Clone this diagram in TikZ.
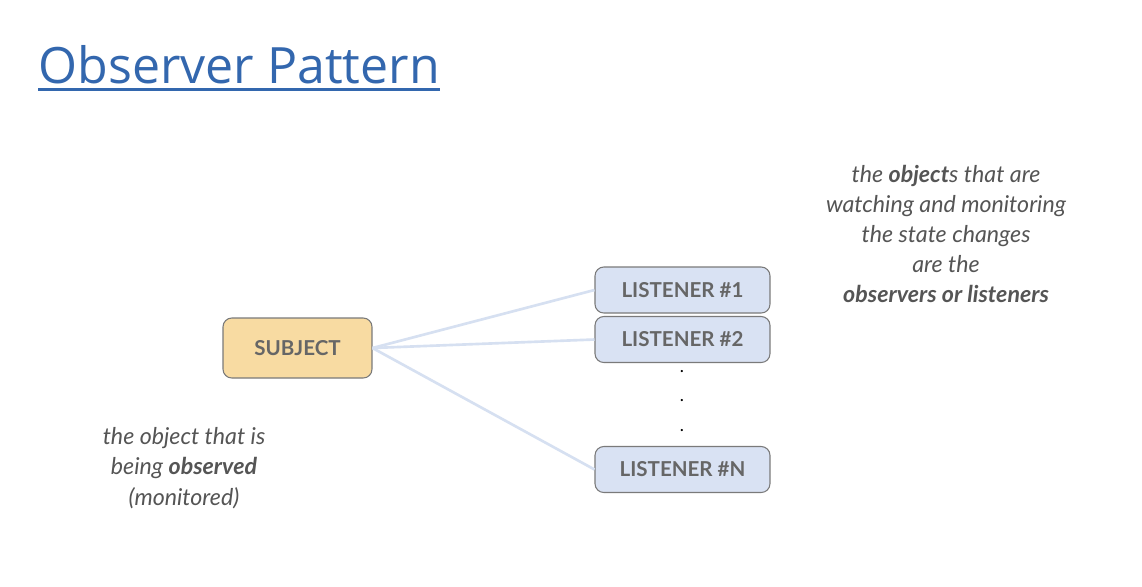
\documentclass[tikz,border=0pt]{standalone}
\usepackage{fontspec}
\setmainfont{Lato}
\newfontfamily\titlefont{Open Sans}
\usepackage{tikz}
\usepackage{xcolor}
\definecolor{subjfill}{HTML}{F8DBA2}
\definecolor{listfill}{HTML}{D9E2F3}
\definecolor{boxline}{HTML}{7A7A7A}
\definecolor{boxtext}{HTML}{666666}
\definecolor{notetext}{HTML}{555555}
\definecolor{linkline}{HTML}{D6E0F1}
\definecolor{titleblue}{HTML}{3367AE}
\tikzstyle{subj} = [rectangle, rounded corners=5pt, draw=boxline, fill=subjfill, minimum width=2.98cm, minimum height=1.2cm, font=\fontsize{11.7}{13}\selectfont\bfseries, text=boxtext]
\tikzstyle{lstn} = [rectangle, rounded corners=5pt, draw=boxline, fill=listfill, minimum width=3.5cm, minimum height=0.92cm, font=\fontsize{11.7}{13}\selectfont\bfseries, text=boxtext]
\tikzstyle{note} = [align=center, text=notetext, font=\fontsize{13.2}{17.2}\selectfont\itshape]

\begin{document}
\begin{tikzpicture}[x=0.02cm,y=-0.02cm,semithick]
  \useasboundingbox[fill=white] (0,0) rectangle (1142,586);
  \node[anchor=base west, inner sep=0pt, text=titleblue, font=\fontsize{28.5}{34}\titlefont] (T) at (38,83) {Observer Pattern};
  \draw[titleblue, line width=1.7pt] ([yshift=-3.5pt]T.base west) -- ([yshift=-3.5pt]T.base east);

  \node[subj] (S) at (297.5,348) {SUBJECT};
  \node[lstn] (L1) at (682.5,290) {LISTENER \#1};
  \node[lstn] (L2) at (682.5,339.5) {LISTENER \#2};
  \node[lstn] (LN) at (682.5,469.5) {LISTENER \#N};
  \node (D1) at (682,372) {.};
  \node (D2) at (682,401) {.};
  \node (D3) at (682,431) {.};

  \path[draw=linkline, line width=1.5pt] (S.east) edge (L1.west);
  \path[draw=linkline, line width=1.5pt] (S.east) edge (L2.west);
  \path[draw=linkline, line width=1.5pt] (S.east) edge (LN.west);

  \node[note] (NS) at (184,468) {the object that is\\being \textbf{observed}\\(monitored)};
  \node[note] (NL) at (946,234) {the \textbf{object}s that are\\watching and monitoring\\the state changes\\are the\\\textbf{observers or listeners}};
\end{tikzpicture}
\end{document}
